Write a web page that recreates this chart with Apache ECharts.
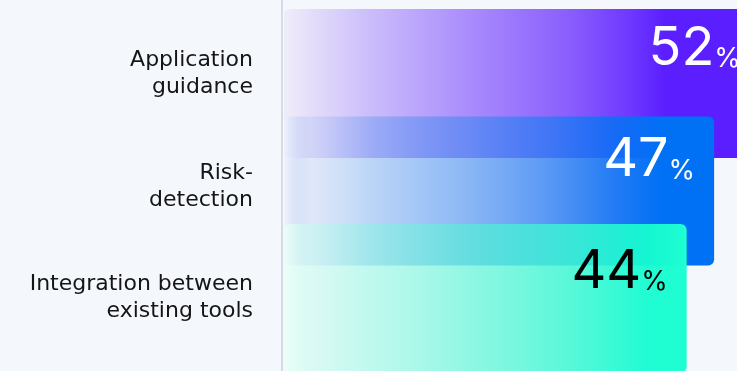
<!DOCTYPE html>
<html>
<head>
<meta charset="utf-8">
<script src="https://cdn.jsdelivr.net/npm/echarts@6/dist/echarts.min.js"></script>
<style>
html,body{margin:0;padding:0;background:#f4f7fb;}
#chart{width:737px;height:371px;}
</style>
</head>
<body>
<div id="chart"></div>
<script>
const categories = ['Application\nguidance', 'Risk-\ndetection', 'Integration between\nexisting tools'];
const values = [52, 47, 44];

// styles (kept apart from the data)
const gradientStops = [
  [[0,'#efedfa'],[0.04,'#e8e2f9'],[0.18,'#cbbdfb'],[0.39,'#a98cfc'],[0.6,'#8a5efd'],[0.74,'#6b34ff'],[0.8,'#5b1fff'],[1,'#5a1eff']],
  [[0,'rgba(240,243,252,0.85)'],[0.06,'rgba(150,180,240,0.22)'],[0.2,'rgba(57,137,237,0.3)'],[0.43,'rgba(60,136,240,0.58)'],[0.6,'rgba(43,124,243,0.75)'],[0.76,'rgba(15,111,244,0.9)'],[0.88,'rgba(0,112,245,1)'],[1,'rgba(0,112,245,1)']],
  [[0,'rgba(236,255,248,0.85)'],[0.07,'rgba(190,252,236,0.45)'],[0.21,'rgba(120,252,220,0.42)'],[0.46,'rgba(76,247,211,0.6)'],[0.71,'rgba(56,248,210,0.83)'],[0.9,'rgba(21,252,209,0.95)'],[1,'rgba(30,255,210,1)']]
];
const labelColors = ['#ffffff', '#ffffff', '#000000'];
const valueLabelShift = [-35, -31, -27];
const catLabelLift = [19, 9, 1];

const chart = echarts.init(document.getElementById('chart'));

const barData = values.map((v, i) => ({
  value: v,
  itemStyle: {
    color: {
      type: 'linear', x: 0, y: 0, x2: 1, y2: 0,
      colorStops: gradientStops[i].map(s => ({offset: s[0], color: s[1]}))
    }
  },
  label: {
    offset: [0, valueLabelShift[i]],
    rich: {
      n: {fontSize: 54, fontFamily: 'Inter', color: labelColors[i], verticalAlign: 'bottom', lineHeight: 54},
      p: {fontSize: 27, fontFamily: 'Inter', color: labelColors[i], verticalAlign: 'bottom', lineHeight: 54, padding: [0, 0, 3, 0]}
    }
  }
}));

const liftRich = {};
catLabelLift.forEach((h, i) => { liftRich['s' + i] = {lineHeight: h, fontSize: 1}; });

chart.setOption({
  backgroundColor: '#f4f7fb',
  animation: false,
  grid: [
    {left: 284, right: 0, top: 29.75, bottom: 18.75},
    {left: 282, right: 0, top: 0, bottom: 0}
  ],
  xAxis: [
    {type: 'value', gridIndex: 0, min: 0, max: 49.5, show: false},
    {type: 'value', gridIndex: 1, show: false}
  ],
  yAxis: [
    {
      type: 'category', gridIndex: 0, inverse: true,
      data: categories,
      axisLine: {show: false}, axisTick: {show: false},
      axisLabel: {
        margin: 31, fontFamily: 'DejaVu Sans', fontSize: 22, lineHeight: 27,
        color: '#151515', align: 'right',
        formatter: (val, idx) => val + '\n{s' + idx + '| }',
        rich: liftRich
      }
    },
    {
      type: 'value', gridIndex: 1,
      axisLine: {show: true, lineStyle: {color: '#d6dbe6', width: 2}},
      axisTick: {show: false}, axisLabel: {show: false}, splitLine: {show: false}
    }
  ],
  series: [{
    type: 'bar',
    xAxisIndex: 0, yAxisIndex: 0,
    barWidth: 149,
    clip: false,
    itemStyle: {borderRadius: 6},
    label: {
      show: true,
      position: 'insideRight',
      distance: 19,
      formatter: p => '{n|' + p.value + '}{p|%}'
    },
    data: barData
  }]
});
</script>
</body>
</html>
